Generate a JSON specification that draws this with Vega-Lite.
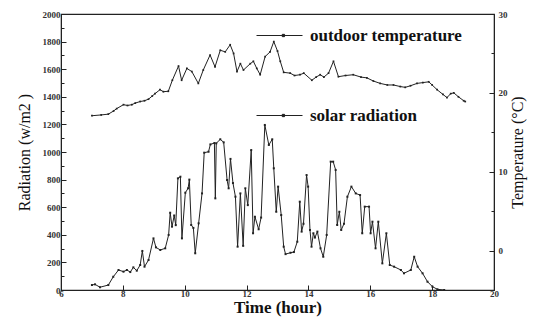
{
  "$schema": "https://vega.github.io/schema/vega-lite/v6.json",
  "width": 433,
  "height": 276,
  "autosize": "none",
  "padding": {"left": 61, "top": 14, "right": 49, "bottom": 36},
  "background": "white",
  "config": {
    "view": {"stroke": "#222", "strokeWidth": 1.2},
    "axis": {"grid": false, "domainColor": "#222", "tickColor": "#222", "labelFont": "Liberation Serif", "labelFontWeight": "bold", "labelFontSize": 9, "labelColor": "#333", "titleFont": "Liberation Serif", "titleColor": "#111", "titleFontWeight": "normal", "titleFontSize": 16}
  },
  "datasets": {
    "rad": [
      {"t": 7.0, "R": 36}, {"t": 7.1, "R": 41}, {"t": 7.26, "R": 20}, {"t": 7.53, "R": 36}, {"t": 7.69, "R": 96},
      {"t": 7.86, "R": 145}, {"t": 8.02, "R": 133}, {"t": 8.13, "R": 145}, {"t": 8.24, "R": 130}, {"t": 8.34, "R": 164},
      {"t": 8.45, "R": 140}, {"t": 8.56, "R": 181}, {"t": 8.63, "R": 283}, {"t": 8.7, "R": 169}, {"t": 8.83, "R": 217},
      {"t": 8.99, "R": 374}, {"t": 9.07, "R": 309}, {"t": 9.21, "R": 290}, {"t": 9.37, "R": 302}, {"t": 9.48, "R": 399},
      {"t": 9.53, "R": 560}, {"t": 9.59, "R": 459}, {"t": 9.66, "R": 540}, {"t": 9.71, "R": 470}, {"t": 9.78, "R": 809},
      {"t": 9.86, "R": 821}, {"t": 9.91, "R": 374}, {"t": 10.02, "R": 705}, {"t": 10.11, "R": 737}, {"t": 10.15, "R": 800},
      {"t": 10.21, "R": 471}, {"t": 10.28, "R": 450}, {"t": 10.34, "R": 266}, {"t": 10.45, "R": 483}, {"t": 10.56, "R": 700},
      {"t": 10.63, "R": 995}, {"t": 10.77, "R": 1002}, {"t": 10.83, "R": 1055}, {"t": 10.96, "R": 1065}, {"t": 10.99, "R": 664},
      {"t": 11.02, "R": 1063}, {"t": 11.15, "R": 1092}, {"t": 11.26, "R": 1070}, {"t": 11.37, "R": 797}, {"t": 11.42, "R": 737},
      {"t": 11.48, "R": 950}, {"t": 11.56, "R": 775}, {"t": 11.64, "R": 676}, {"t": 11.71, "R": 314}, {"t": 11.8, "R": 700},
      {"t": 11.89, "R": 320}, {"t": 11.96, "R": 737}, {"t": 12.04, "R": 615}, {"t": 12.15, "R": 1014}, {"t": 12.21, "R": 411},
      {"t": 12.27, "R": 531}, {"t": 12.39, "R": 440}, {"t": 12.47, "R": 525}, {"t": 12.59, "R": 1196}, {"t": 12.72, "R": 1051},
      {"t": 12.83, "R": 1092}, {"t": 12.88, "R": 882}, {"t": 12.96, "R": 567}, {"t": 13.02, "R": 749}, {"t": 13.12, "R": 543},
      {"t": 13.2, "R": 314}, {"t": 13.26, "R": 260}, {"t": 13.42, "R": 270}, {"t": 13.53, "R": 275}, {"t": 13.64, "R": 350},
      {"t": 13.72, "R": 640}, {"t": 13.78, "R": 423}, {"t": 13.84, "R": 480}, {"t": 13.94, "R": 833}, {"t": 13.99, "R": 749},
      {"t": 14.05, "R": 435}, {"t": 14.1, "R": 314}, {"t": 14.16, "R": 411}, {"t": 14.21, "R": 380}, {"t": 14.29, "R": 423},
      {"t": 14.39, "R": 302}, {"t": 14.48, "R": 241}, {"t": 14.59, "R": 399}, {"t": 14.72, "R": 930}, {"t": 14.8, "R": 930},
      {"t": 14.88, "R": 870}, {"t": 14.93, "R": 471}, {"t": 15.0, "R": 567}, {"t": 15.06, "R": 435}, {"t": 15.15, "R": 480},
      {"t": 15.26, "R": 676}, {"t": 15.39, "R": 749}, {"t": 15.53, "R": 700}, {"t": 15.67, "R": 688}, {"t": 15.74, "R": 411},
      {"t": 15.82, "R": 604}, {"t": 15.96, "R": 604}, {"t": 16.01, "R": 411}, {"t": 16.07, "R": 495}, {"t": 16.17, "R": 302},
      {"t": 16.26, "R": 495}, {"t": 16.39, "R": 193}, {"t": 16.52, "R": 411}, {"t": 16.63, "R": 181}, {"t": 16.77, "R": 169},
      {"t": 16.99, "R": 145}, {"t": 17.09, "R": 121}, {"t": 17.31, "R": 145}, {"t": 17.42, "R": 241}, {"t": 17.53, "R": 169},
      {"t": 17.69, "R": 121}, {"t": 17.85, "R": 60}, {"t": 18.01, "R": 24}, {"t": 18.17, "R": 5}, {"t": 18.39, "R": 0}
    ],
    "temp": [
      {"t": 7.0, "T": 17.1}, {"t": 7.3, "T": 17.2}, {"t": 7.53, "T": 17.3}, {"t": 7.7, "T": 17.7}, {"t": 7.8, "T": 18.0},
      {"t": 8.02, "T": 18.5}, {"t": 8.15, "T": 18.4}, {"t": 8.29, "T": 18.5}, {"t": 8.4, "T": 18.7}, {"t": 8.56, "T": 18.9},
      {"t": 8.7, "T": 19.0}, {"t": 8.83, "T": 19.2}, {"t": 8.95, "T": 19.6}, {"t": 9.04, "T": 19.9}, {"t": 9.2, "T": 20.4},
      {"t": 9.31, "T": 20.15}, {"t": 9.47, "T": 20.2}, {"t": 9.6, "T": 21.6}, {"t": 9.8, "T": 23.4}, {"t": 9.9, "T": 21.6},
      {"t": 10.07, "T": 23.1}, {"t": 10.23, "T": 22.7}, {"t": 10.44, "T": 21.2}, {"t": 10.6, "T": 22.9}, {"t": 10.82, "T": 24.8},
      {"t": 10.98, "T": 23.3}, {"t": 11.15, "T": 25.4}, {"t": 11.31, "T": 25.2}, {"t": 11.47, "T": 26.1}, {"t": 11.58, "T": 25.0},
      {"t": 11.69, "T": 22.7}, {"t": 11.8, "T": 23.7}, {"t": 11.9, "T": 22.9}, {"t": 12.12, "T": 23.7}, {"t": 12.22, "T": 24.0},
      {"t": 12.33, "T": 23.1}, {"t": 12.44, "T": 22.3}, {"t": 12.6, "T": 24.6}, {"t": 12.76, "T": 25.2}, {"t": 12.88, "T": 26.5},
      {"t": 13.0, "T": 25.3}, {"t": 13.09, "T": 24.0}, {"t": 13.2, "T": 22.6}, {"t": 13.41, "T": 22.5}, {"t": 13.55, "T": 22.2},
      {"t": 13.73, "T": 22.3}, {"t": 13.85, "T": 22.5}, {"t": 14.11, "T": 21.6}, {"t": 14.25, "T": 22.0}, {"t": 14.38, "T": 22.3},
      {"t": 14.5, "T": 22.0}, {"t": 14.65, "T": 22.5}, {"t": 14.81, "T": 24.0}, {"t": 14.97, "T": 22.05}, {"t": 15.2, "T": 22.2},
      {"t": 15.45, "T": 22.3}, {"t": 15.7, "T": 22.0}, {"t": 15.89, "T": 21.9}, {"t": 16.1, "T": 21.5}, {"t": 16.32, "T": 21.2},
      {"t": 16.55, "T": 21.0}, {"t": 16.75, "T": 21.0}, {"t": 16.97, "T": 20.8}, {"t": 17.13, "T": 20.7}, {"t": 17.3, "T": 20.9},
      {"t": 17.51, "T": 21.2}, {"t": 17.7, "T": 21.3}, {"t": 17.89, "T": 21.4}, {"t": 18.0, "T": 21.0}, {"t": 18.16, "T": 20.4},
      {"t": 18.35, "T": 19.8}, {"t": 18.48, "T": 19.4}, {"t": 18.6, "T": 19.9}, {"t": 18.7, "T": 20.0}, {"t": 18.85, "T": 19.5},
      {"t": 19.02, "T": 19.0}, {"t": 19.07, "T": 18.9}
    ]
  },
  "layer": [
    {
      "data": {"name": "rad"},
      "mark": {"type": "line", "strokeWidth": 1, "point": {"filled": true, "size": 4, "shape": "square", "color": "#222"}},
      "encoding": {
        "x": {"field": "t", "type": "quantitative", "scale": {"domain": [6, 20], "nice": false},
          "axis": {"title": "Time (hour)", "titleFontWeight": "bold", "titleFontSize": 17, "titlePadding": 1,
            "values": [6, 7, 8, 9, 10, 11, 12, 13, 14, 15, 16, 17, 18, 19, 20],
            "labelExpr": "datum.value % 2 === 0 ? datum.label : ''", "labelPadding": 4,
            "tickSize": {"condition": {"test": "datum.value % 2 === 0", "value": -5}, "value": -3}, "labelFlush": false}},
        "y": {"field": "R", "type": "quantitative", "scale": {"domain": [0, 2000], "nice": false},
          "axis": {"orient": "left", "title": "Radiation (w/m2 )", "titlePadding": 10,
            "values": [0, 100, 200, 300, 400, 500, 600, 700, 800, 900, 1000, 1100, 1200, 1300, 1400, 1500, 1600, 1700, 1800, 1900, 2000],
            "labelExpr": "datum.value % 200 === 0 ? datum.label : ''", "format": "d", "labelPadding": 6,
            "tickSize": {"condition": {"test": "datum.value % 200 === 0", "value": -5}, "value": -3}}},
        "color": {"datum": "solar radiation", "type": "nominal",
          "scale": {"domain": ["outdoor temperature", "solar radiation"], "range": ["#222", "#222"]},
          "legend": {"title": null, "orient": "none", "legendX": 195, "legendY": -2,
            "symbolType": "M-1,0L1,0M0.12,-0.05L0.22,-0.05L0.22,0.05L0.12,0.05Z", "symbolSize": 2116, "symbolStrokeWidth": 1,
            "symbolStrokeColor": "#222", "symbolFillColor": "#222",
            "labelFont": "Liberation Serif", "labelFontSize": 17, "labelFontWeight": "bold", "labelColor": "#111",
            "labelOffset": 7, "rowPadding": 48}}
      }
    },
    {
      "data": {"name": "temp"},
      "mark": {"type": "line", "strokeWidth": 1, "point": {"filled": true, "size": 3, "shape": "square", "color": "#222"}},
      "encoding": {
        "x": {"field": "t", "type": "quantitative"},
        "y": {"field": "T", "type": "quantitative", "scale": {"domain": [-5, 30], "nice": false},
          "axis": {"orient": "right", "title": "Temperature (°C)", "titleAngle": 270, "titlePadding": 18,
            "values": [0, 5, 10, 15, 20, 25, 30],
            "labelExpr": "datum.value % 10 === 0 ? datum.label : ''", "labelPadding": 9,
            "tickSize": {"condition": {"test": "datum.value % 10 === 0", "value": -5}, "value": -3}}},
        "color": {"datum": "outdoor temperature", "type": "nominal"}
      }
    }
  ],
  "resolve": {"scale": {"y": "independent"}}
}
